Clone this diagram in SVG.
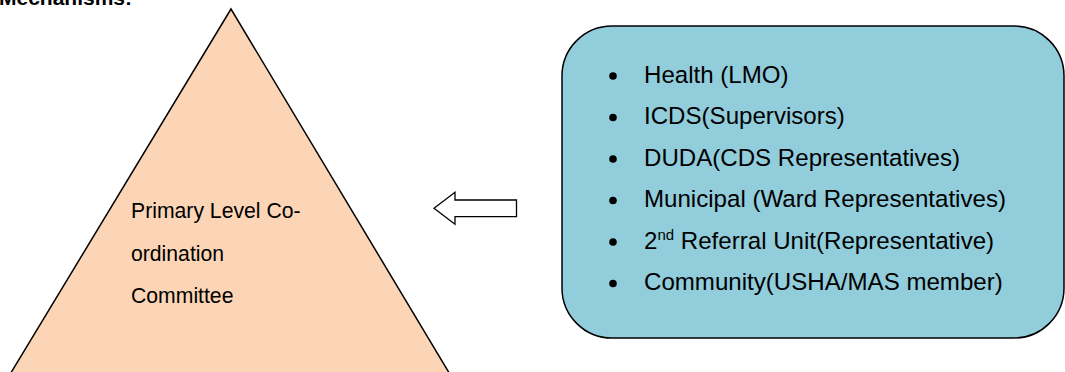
<svg xmlns="http://www.w3.org/2000/svg" width="1065" height="372" viewBox="0 0 1065 372">
<style>
text{font-family:"Liberation Sans",Arial,sans-serif;fill:#000}
.li{font-size:24.1px}
.tri{font-size:21.2px}
.bul{fill:#000}
</style>
<rect width="1065" height="372" fill="#fff"/>
<text x="-1" y="4.5" style="font-size:21px;font-weight:bold">Mechanisms:</text>
<g id="pyramid">
<polygon points="231,9 9,376 451,376" fill="#FBD5B5" stroke="#000" stroke-width="1.5"/>
<text class="tri" x="131" y="217.5">Primary Level Co-</text>
<text class="tri" x="131" y="260.5">ordination</text>
<text class="tri" x="131" y="303">Committee</text>
</g>
<g id="connectors">
<polygon points="434,208.3 455,192.3 455,200 516.5,200 516.5,216.7 455,216.7 455,224.3" fill="#fff" stroke="#000" stroke-width="1.3"/>
</g>
<g id="members">
<rect x="562" y="26" width="502" height="312" rx="50" ry="50" fill="#92CDDC" stroke="#000" stroke-width="1.5"/>
<circle class="bul" cx="613" cy="76" r="3.8"/>
<circle class="bul" cx="613" cy="117.5" r="3.8"/>
<circle class="bul" cx="613" cy="159" r="3.8"/>
<circle class="bul" cx="613" cy="200.5" r="3.8"/>
<circle class="bul" cx="613" cy="242" r="3.8"/>
<circle class="bul" cx="613" cy="283.5" r="3.8"/>
<text class="li" x="644" y="82.5">Health (LMO)</text>
<text class="li" x="644" y="124">ICDS(Supervisors)</text>
<text class="li" x="644" y="165.5">DUDA(CDS Representatives)</text>
<text class="li" x="644" y="207">Municipal (Ward Representatives)</text>
<text class="li" x="644" y="248.5">2<tspan dy="-9" style="font-size:15px">nd</tspan><tspan dy="9"> Referral Unit(Representative)</tspan></text>
<text class="li" x="644" y="290">Community(USHA/MAS member)</text>
</g>
</svg>
